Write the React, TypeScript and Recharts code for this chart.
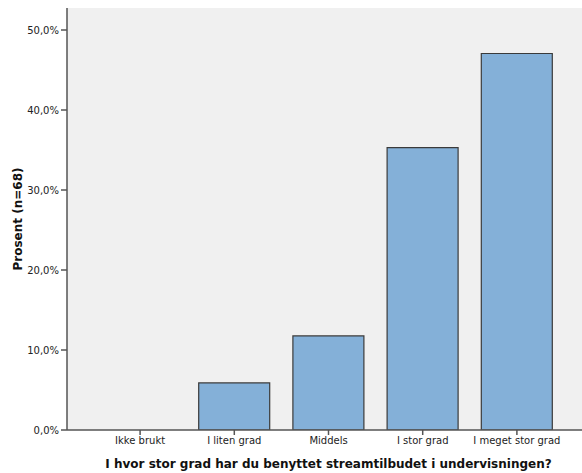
import { BarChart, Bar, XAxis, YAxis, CartesianGrid, Label } from 'recharts'

const categories = ['Ikke brukt', 'I liten grad', 'Middels', 'I stor grad', 'I meget stor grad']
const percents = [0, 5.88, 11.76, 35.29, 47.06]
const yTicks = [0, 10, 20, 30, 40, 50]

const data = categories.map((name, i) => ({ name, value: percents[i] }))

const fmt = (v: number) => v.toFixed(1).replace('.', ',') + '%'

export default function App() {
  return (
    <div style={{ position: 'fixed', left: 0, top: 0, background: '#fff' }}>
      <BarChart
        width={582}
        height={473}
        data={data}
        margin={{ top: 8, right: 0, bottom: 0, left: 0 }}
        barCategoryGap={11.5}
      >
        <CartesianGrid fill="#f0f0f0" horizontal={false} vertical={false} />
        <XAxis
          dataKey="name"
          height={43}
          padding={{ left: 26, right: 18 }}
          axisLine={{ stroke: '#555', strokeWidth: 1.5 }}
          tickLine={{ stroke: '#555', strokeWidth: 1.5 }}
          tickSize={5}
          tickMargin={2}
          tick={{ fontSize: 10, fill: '#222', fontFamily: 'DejaVu Sans' }}
          interval={0}
        >
          <Label
            value="I hvor stor grad har du benyttet streamtilbudet i undervisningen?"
            position="insideBottom"
            offset={5}
            dx={4}
            style={{ fontSize: 12, fontWeight: 'bold', fill: '#111', fontFamily: 'DejaVu Sans' }}
          />
        </XAxis>
        <XAxis
          xAxisId="top"
          orientation="top"
          dataKey="name"
          height={0}
          tick={false}
          tickLine={false}
          axisLine={{ stroke: '#555', strokeWidth: 1.5 }}
        />
        <YAxis
          width={67}
          domain={[0, 52.75]}
          ticks={yTicks}
          tickFormatter={fmt}
          allowDataOverflow
          axisLine={{ stroke: '#555', strokeWidth: 1.5 }}
          tickLine={{ stroke: '#555', strokeWidth: 1.5 }}
          tickSize={6}
          tickMargin={2}
          tick={{ fontSize: 10, fill: '#222', fontFamily: 'DejaVu Sans' }}
        >
          <Label
            value="Prosent (n=68)"
            angle={-90}
            position="insideLeft"
            offset={18}
            style={{ textAnchor: 'middle', fontSize: 12, fontWeight: 'bold', fill: '#111', fontFamily: 'DejaVu Sans' }}
          />
        </YAxis>
        <Bar dataKey="value" fill="#84b0d8" stroke="#3a3a3a" strokeWidth={1.2} isAnimationActive={false} />
      </BarChart>
    </div>
  )
}
